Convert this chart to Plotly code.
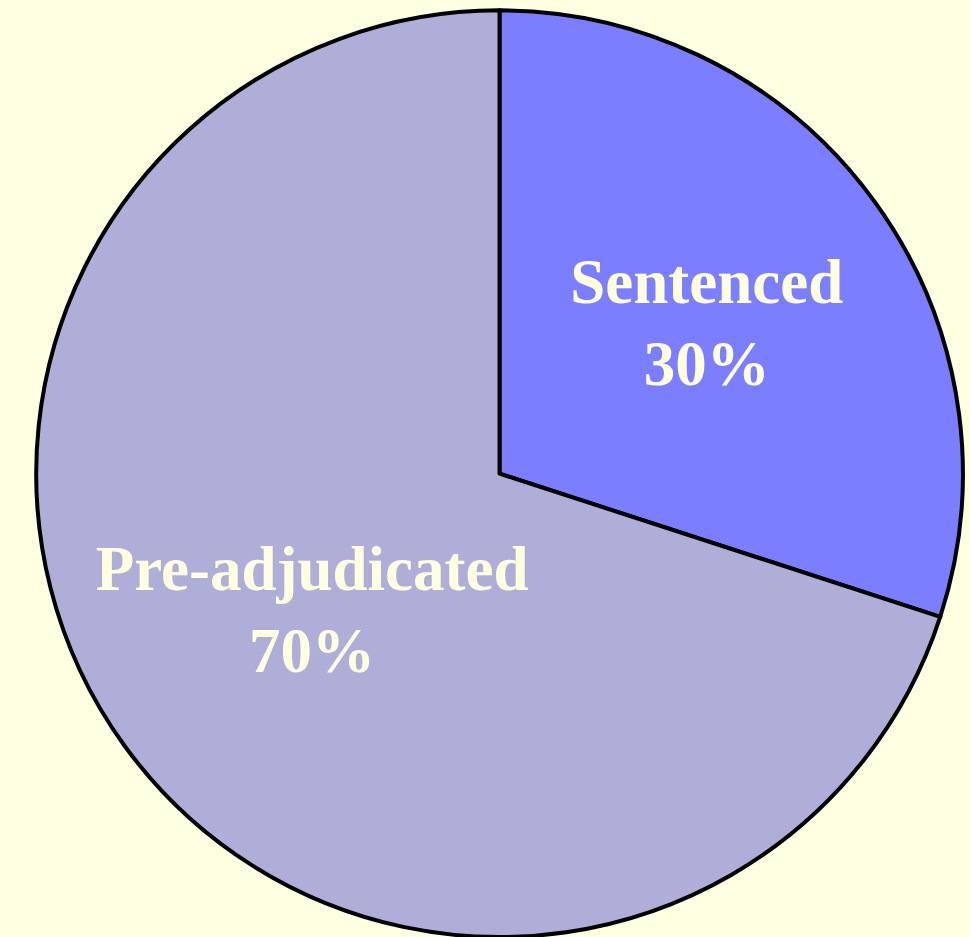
import plotly.graph_objects as go

labels = ["Sentenced", "Pre-adjudicated"]
values = [30, 70]
colors = ["#7a7eff", "#aeaed9"]

texts = [f"<b>{l}</b><br><b>{v}%</b>" for l, v in zip(labels, values)]

fig = go.Figure(go.Pie(
    labels=labels,
    values=values,
    text=texts,
    textinfo="text",
    textposition="inside",
    insidetextorientation="horizontal",
    sort=False,
    direction="clockwise",
    rotation=0,
    marker=dict(colors=colors, line=dict(color="black", width=4)),
    textfont=dict(family="Liberation Serif, Times New Roman, serif", size=63, color="#FFFFE0"),
    hoverinfo="label+percent",
    domain=dict(x=[0.03, 1.0], y=[0.0, 0.989]),
))

fig.update_layout(
    width=970, height=937,
    margin=dict(l=0, r=0, t=0, b=0),
    paper_bgcolor="#FFFFE2",
    plot_bgcolor="#FFFFE2",
    showlegend=False,
    uniformtext=dict(minsize=63, mode="show"),
)

fig.write_html(
    "out.html",
    config={"displayModeBar": False},
    post_script="document.body.style.margin='0';document.body.style.background='#FFFFE2';",
)
